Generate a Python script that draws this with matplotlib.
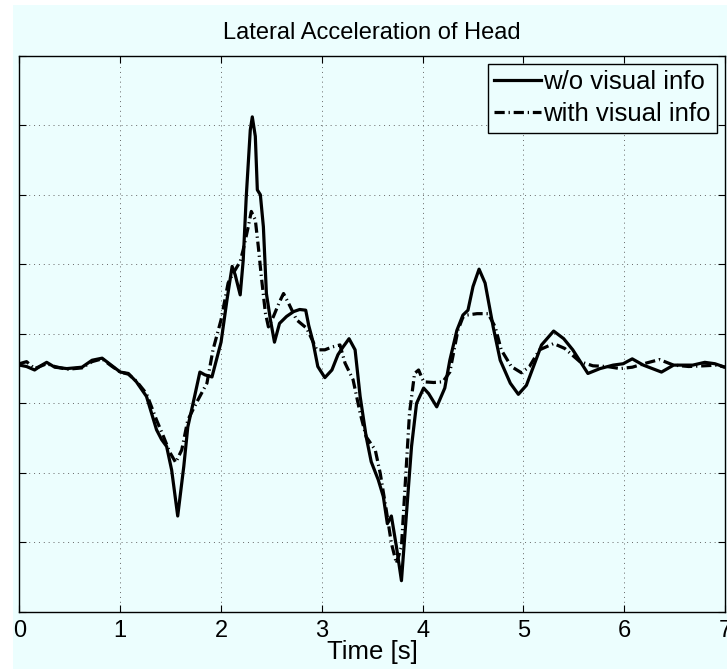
import matplotlib
matplotlib.use("Agg")
import matplotlib.pyplot as plt
from matplotlib.patches import Rectangle

plt.rcParams['font.family'] = ['Liberation Sans', 'DejaVu Sans']

# time [s] and head lateral acceleration (y tick labels are hidden in the original)
t_novis = [0.00, 0.07, 0.15, 0.21, 0.27, 0.35, 0.47, 0.62, 0.72, 0.82, 0.91, 1.00,
           1.08, 1.16, 1.26, 1.36, 1.41, 1.46, 1.51, 1.57, 1.63, 1.67, 1.73, 1.79,
           1.84, 1.91, 2.00, 2.06, 2.11, 2.14, 2.19, 2.22, 2.25, 2.29, 2.31, 2.34,
           2.36, 2.39, 2.42, 2.45, 2.49, 2.53, 2.58, 2.65, 2.72, 2.78, 2.84, 2.87,
           2.91, 2.96, 3.03, 3.10, 3.16, 3.21, 3.27, 3.33, 3.38, 3.44, 3.49, 3.56,
           3.61, 3.65, 3.69, 3.74, 3.79, 3.84, 3.89, 3.94, 4.01, 4.06, 4.14, 4.22,
           4.27, 4.34, 4.40, 4.45, 4.50, 4.56, 4.62, 4.70, 4.77, 4.87, 4.95, 5.03,
           5.10, 5.18, 5.30, 5.40, 5.49, 5.64, 5.76, 5.89, 5.99, 6.08, 6.19, 6.37,
           6.49, 6.68, 6.80, 6.90, 7.00]
a_novis = [-0.45, -0.47, -0.52, -0.46, -0.41, -0.48, -0.50, -0.48, -0.38, -0.35, -0.45, -0.55,
           -0.57, -0.69, -0.90, -1.38, -1.52, -1.62, -1.96, -2.62, -1.91, -1.34, -0.95, -0.55,
           -0.59, -0.62, -0.12, 0.50, 0.97, 0.85, 0.56, 1.06, 1.97, 2.93, 3.12, 2.84,
           2.07, 2.00, 1.54, 0.58, 0.20, -0.12, 0.15, 0.25, 0.32, 0.35, 0.34, 0.12,
           -0.10, -0.47, -0.63, -0.52, -0.30, -0.19, -0.07, -0.23, -0.90, -1.48, -1.84, -2.10,
           -2.34, -2.73, -2.62, -3.06, -3.55, -2.58, -1.62, -1.00, -0.78, -0.86, -1.05, -0.78,
           -0.38, 0.05, 0.27, 0.34, 0.68, 0.93, 0.73, 0.10, -0.38, -0.71, -0.87, -0.74,
           -0.47, -0.16, 0.04, -0.07, -0.23, -0.57, -0.50, -0.45, -0.43, -0.36, -0.45, -0.55,
           -0.45, -0.45, -0.41, -0.43, -0.48]

t_vis = [0.00, 0.07, 0.15, 0.27, 0.35, 0.47, 0.62, 0.72, 0.82, 0.91, 1.00, 1.08,
         1.16, 1.26, 1.36, 1.43, 1.49, 1.55, 1.61, 1.67, 1.76, 1.86, 1.92, 2.00,
         2.07, 2.12, 2.19, 2.22, 2.27, 2.30, 2.34, 2.37, 2.40, 2.44, 2.47, 2.52,
         2.58, 2.62, 2.67, 2.75, 2.85, 2.95, 3.03, 3.10, 3.18, 3.23, 3.31, 3.38,
         3.44, 3.53, 3.58, 3.64, 3.69, 3.74, 3.79, 3.83, 3.87, 3.92, 3.96, 4.01,
         4.11, 4.20, 4.27, 4.31, 4.35, 4.40, 4.44, 4.54, 4.65, 4.72, 4.78, 4.88,
         4.98, 5.06, 5.16, 5.30, 5.41, 5.56, 5.69, 5.83, 5.96, 6.08, 6.22, 6.35,
         6.49, 6.64, 6.79, 6.92, 7.00]
a_vis = [-0.43, -0.40, -0.50, -0.43, -0.47, -0.51, -0.49, -0.40, -0.36, -0.46, -0.55, -0.58,
         -0.68, -0.86, -1.24, -1.48, -1.70, -1.85, -1.67, -1.24, -0.98, -0.71, -0.23, 0.20,
         0.73, 0.87, 1.04, 1.21, 1.54, 1.76, 1.64, 1.25, 0.82, 0.30, 0.10, 0.25,
         0.46, 0.58, 0.44, 0.20, 0.08, -0.23, -0.23, -0.19, -0.16, -0.42, -0.66, -1.14,
         -1.48, -1.67, -2.01, -2.54, -3.01, -3.30, -3.06, -2.10, -1.14, -0.57, -0.52, -0.69,
         -0.70, -0.69, -0.55, -0.25, 0.05, 0.24, 0.27, 0.29, 0.29, 0.10, -0.23, -0.47,
         -0.56, -0.47, -0.23, -0.14, -0.21, -0.40, -0.46, -0.47, -0.50, -0.48, -0.42, -0.37,
         -0.45, -0.47, -0.46, -0.45, -0.48]

x_ticks = [0, 1, 2, 3, 4, 5, 6, 7]
y_ticks = [-4, -3, -2, -1, 0, 1, 2, 3, 4]

bg = '#ECFEFE'

fig = plt.figure(figsize=(7.27, 6.70), dpi=100)
fig.patch.set_facecolor('white')
fig.patches.append(Rectangle((13 / 727, 1 / 670), 1 - 13 / 727, 1 - 6 / 670,
                             transform=fig.transFigure, facecolor=bg,
                             edgecolor='none', zorder=-10))

ax = fig.add_axes([0.0268, 0.0866, 0.9704, 0.8303])
ax.set_facecolor(bg)

ax.plot(t_novis, a_novis, color='black', lw=2.3, label='w/o visual info',
        solid_joinstyle='round')
ax.plot(t_vis, a_vis, color='black', lw=2.3, linestyle=(0, (3.2, 1.2, 0.4, 1.2)),
        label='with visual info')

ax.set_xlim(0, 7)
ax.set_ylim(-4, 4)
ax.set_xticks(x_ticks)
ax.set_yticks(y_ticks)
ax.set_yticklabels([])
ax.tick_params(direction='in', length=5, width=0.8, top=True, right=True,
               labelsize=17, pad=6)
ax.grid(True, color='0.4', linestyle=(0, (1, 4)), linewidth=0.7)
for s in ax.spines.values():
    s.set_linewidth(1.0)

ax.set_title('Lateral Acceleration of Head', fontsize=17, pad=12)
ax.set_xlabel('Time [s]', fontsize=18.5, labelpad=-2)

leg = ax.legend(loc='upper right', bbox_to_anchor=(0.989, 0.985), borderaxespad=0,
                fontsize=18.5, fancybox=False, framealpha=1, edgecolor='black',
                facecolor=bg, handlelength=1.8, handletextpad=0.1,
                borderpad=0.25, labelspacing=0.3)
leg.get_frame().set_linewidth(1.0)

fig.savefig('out.png', dpi=100, facecolor=fig.get_facecolor())
